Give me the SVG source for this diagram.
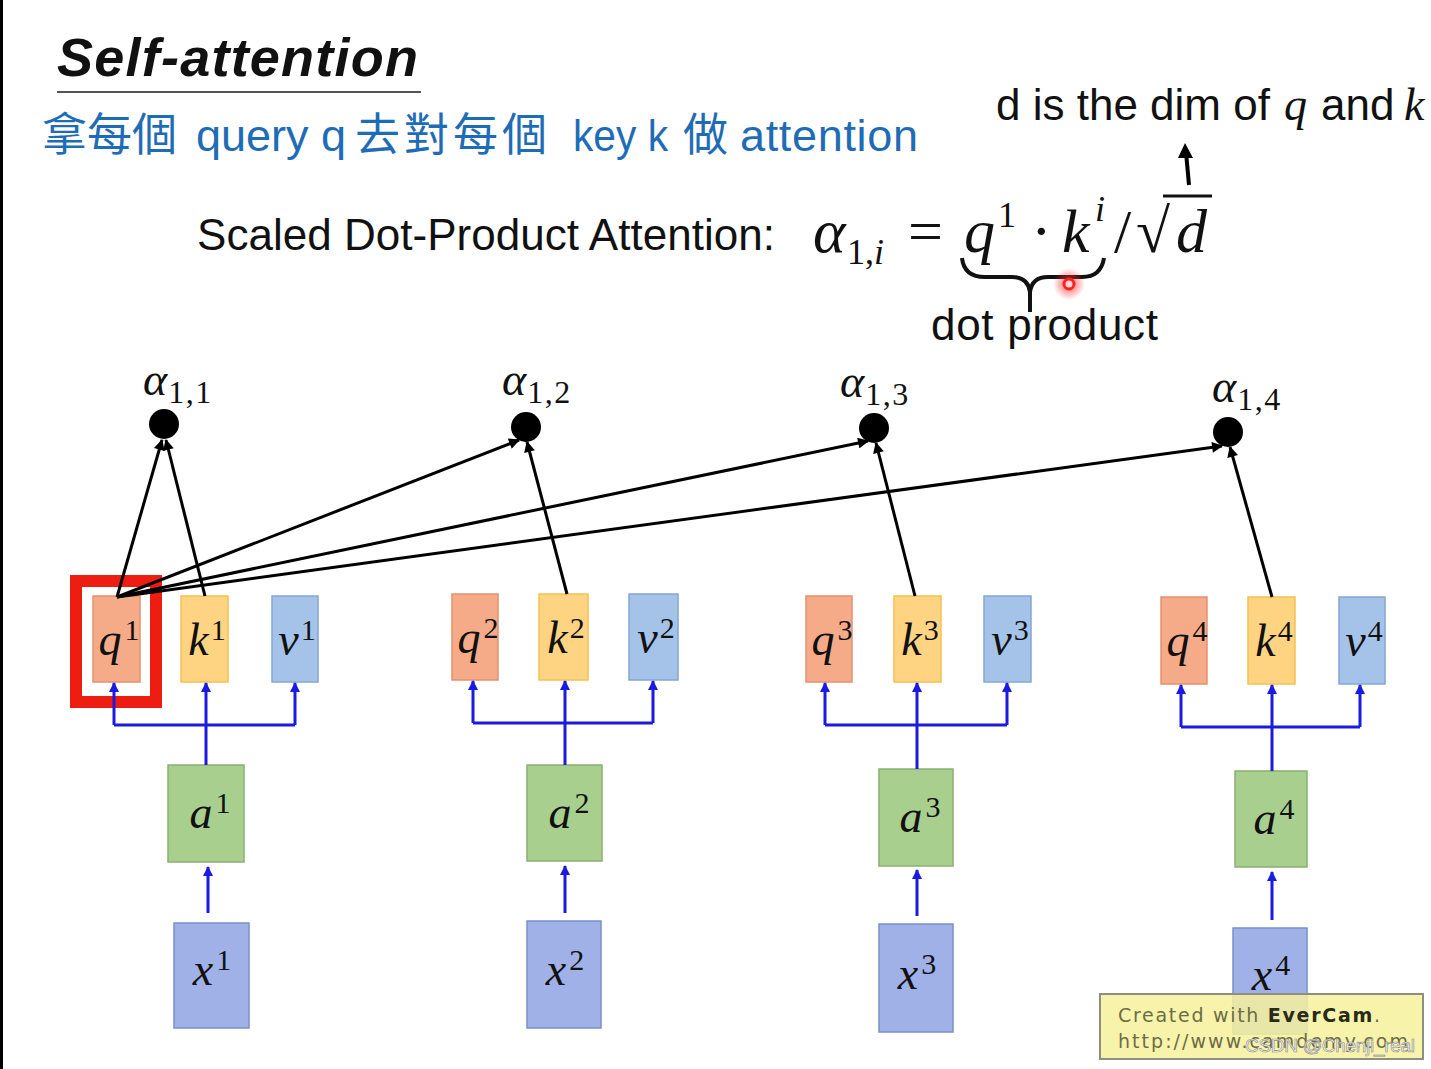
<svg xmlns="http://www.w3.org/2000/svg" width="1431" height="1069" viewBox="0 0 1431 1069">
<defs>
<style>
.sans{font-family:"Liberation Sans",Arial,sans-serif;fill:#111}
.mi{font-family:"Liberation Serif",serif;font-style:italic;font-size:46px;fill:#111}
.sup{font-style:normal;font-size:30px}
.sub{font-style:normal;font-size:32px;letter-spacing:1.5px}
.fm{font-family:"Liberation Serif",serif;fill:#111}
.big{font-size:62px}
.sm{font-size:36px}
.it{font-style:italic}
.cjk{font-family:"Noto Sans CJK TC","Noto Sans CJK SC",sans-serif;font-size:45px;fill:#1f6cb6}
.blu{font-family:"Liberation Sans",Arial,sans-serif;font-size:45px;fill:#1f6cb6}
.q{fill:#f5ab88;stroke:#e3916f;stroke-width:1.5}
.k{fill:#fed483;stroke:#f3c152;stroke-width:1.5}
.v{fill:#a5c3e8;stroke:#84a6d2;stroke-width:1.5}
.a{fill:#a9cf8f;stroke:#8bb072;stroke-width:1.5}
.x{fill:#9fb1e6;stroke:#7c8fc9;stroke-width:1.5}
.bl{stroke:#1a1ae0;stroke-width:3;fill:none}
.bla{stroke:#1a1ae0;stroke-width:3;fill:none;marker-end:url(#ab)}
.kl{stroke:#000;stroke-width:3;fill:none;marker-end:url(#ak)}
.wm{font-family:"DejaVu Sans",sans-serif;font-size:19px;fill:#6d6d45}
</style>
<marker id="ab" viewBox="0 0 10 10" refX="9" refY="5" markerWidth="10" markerHeight="11" markerUnits="userSpaceOnUse" orient="auto"><path d="M0,0 L10,5 L0,10 z" fill="#1a1ae0"/></marker>
<marker id="ak" viewBox="0 0 10 10" refX="9" refY="5" markerWidth="12" markerHeight="11" markerUnits="userSpaceOnUse" orient="auto"><path d="M0,0 L10,5 L0,10 z" fill="#000"/></marker>
<radialGradient id="glow"><stop offset="0" stop-color="#ff3030" stop-opacity="0.8"/><stop offset="1" stop-color="#ff3030" stop-opacity="0"/></radialGradient>
</defs>
<rect width="1431" height="1069" fill="#fff"/>
<rect x="0" y="0" width="3" height="1069" fill="#000"/>

<g id="title">
<text class="sans" x="57" y="76" style="font-size:54px" font-weight="bold" font-style="italic" textLength="361" lengthAdjust="spacing">Self-attention</text>
<line x1="57" y1="92" x2="421" y2="92" stroke="#555" stroke-width="2"/>
</g>
<g id="subtitle">
<text class="cjk" x="42" y="151">拿每個</text>
<text class="blu" x="196" y="151">query q</text>
<text class="cjk" x="355" y="151" textLength="192" lengthAdjust="spacing">去對每個</text>
<text class="blu" x="573" y="151" textLength="95" lengthAdjust="spacingAndGlyphs">key k</text>
<text class="cjk" x="683" y="151">做</text>
<text class="blu" x="740" y="151" textLength="178" lengthAdjust="spacing">attention</text>
</g>
<g id="formula">
<text class="sans" x="197" y="250" style="font-size:44px" textLength="578" lengthAdjust="spacing">Scaled Dot-Product Attention:</text>
<text class="fm big it" x="813" y="252">α</text>
<text class="fm sm" x="847" y="264">1,<tspan class="it">i</tspan></text>
<text class="fm big" x="908" y="252">=</text>
<text class="fm big it" x="964" y="252">q</text>
<text class="fm sm" x="998" y="227">1</text>
<text class="fm big" x="1031" y="252">·</text>
<text class="fm big it" x="1062" y="252">k</text>
<text class="fm sm it" x="1095" y="221">i</text>
<text class="fm big" x="1114" y="252">/</text>
<text class="fm big" x="1136" y="252">√</text>
<line x1="1163" y1="196" x2="1212" y2="196" stroke="#111" stroke-width="3"/>
<text class="fm big it" x="1176" y="252">d</text>
<path d="M962,258 Q964,277 985,277 L1012,277 Q1028,277 1030,292 L1030,312 M1030,292 Q1032,277 1048,277 L1082,277 Q1101,277 1104,258" fill="none" stroke="#111" stroke-width="4"/>
<text class="sans" x="931" y="340" style="font-size:44px" textLength="227" lengthAdjust="spacing">dot product</text>
<circle cx="1069" cy="284" r="16" fill="url(#glow)"/>
<circle cx="1069" cy="284" r="5" fill="#ffd6d6" stroke="#ff2020" stroke-width="3"/>
</g>
<g id="note">
<text class="sans" x="996" y="120" style="font-size:44px">d is the dim of</text>
<text class="mi" x="1284" y="120">q</text>
<text class="sans" x="1321" y="120" style="font-size:44px">and</text>
<text class="mi" x="1404" y="120">k</text>
<line x1="1189" y1="185" x2="1186" y2="152" stroke="#000" stroke-width="4"/>
<path d="M1185,143 L1193,158 L1178,158 z" fill="#000"/>
</g>

<g id="col1">
<g id="q1"><rect class="q" x="93" y="596" width="47" height="86"/><text class="mi" x="119" y="655" text-anchor="middle">q<tspan class="sup" dx="3" dy="-15">1</tspan></text></g>
<g id="k1"><rect class="k" x="181" y="596" width="47" height="86"/><text class="mi" x="207" y="655" text-anchor="middle">k<tspan class="sup" dx="2" dy="-15">1</tspan></text></g>
<g id="v1"><rect class="v" x="272" y="596" width="46" height="86"/><text class="mi" x="297" y="655" text-anchor="middle">v<tspan class="sup" dx="2" dy="-15">1</tspan></text></g>
<g id="a1"><rect class="a" x="168" y="765" width="76" height="97"/><text class="mi" x="210" y="828" text-anchor="middle">a<tspan class="sup" dx="3" dy="-15">1</tspan></text></g>
<g id="x1"><rect class="x" x="174" y="923" width="75" height="105"/><text class="mi" x="212" y="985" text-anchor="middle">x<tspan class="sup" dx="3" dy="-15">1</tspan></text></g>
<rect id="highlight" x="76" y="581" width="80" height="121" fill="none" stroke="#ee1d12" stroke-width="12"/>
</g>
<g id="col2">
<g id="q2"><rect class="q" x="452" y="594" width="46" height="86"/><text class="mi" x="478" y="653" text-anchor="middle">q<tspan class="sup" dx="3" dy="-15">2</tspan></text></g>
<g id="k2"><rect class="k" x="539" y="594" width="49" height="86"/><text class="mi" x="566" y="653" text-anchor="middle">k<tspan class="sup" dx="2" dy="-15">2</tspan></text></g>
<g id="v2"><rect class="v" x="629" y="594" width="49" height="86"/><text class="mi" x="656" y="653" text-anchor="middle">v<tspan class="sup" dx="2" dy="-15">2</tspan></text></g>
<g id="a2"><rect class="a" x="527" y="765" width="75" height="96"/><text class="mi" x="569" y="828" text-anchor="middle">a<tspan class="sup" dx="3" dy="-15">2</tspan></text></g>
<g id="x2"><rect class="x" x="527" y="921" width="74" height="107"/><text class="mi" x="565" y="985" text-anchor="middle">x<tspan class="sup" dx="3" dy="-15">2</tspan></text></g>
</g>
<g id="col3">
<g id="q3"><rect class="q" x="806" y="596" width="46" height="86"/><text class="mi" x="832" y="655" text-anchor="middle">q<tspan class="sup" dx="3" dy="-15">3</tspan></text></g>
<g id="k3"><rect class="k" x="894" y="596" width="47" height="86"/><text class="mi" x="920" y="655" text-anchor="middle">k<tspan class="sup" dx="2" dy="-15">3</tspan></text></g>
<g id="v3"><rect class="v" x="984" y="596" width="47" height="86"/><text class="mi" x="1010" y="655" text-anchor="middle">v<tspan class="sup" dx="2" dy="-15">3</tspan></text></g>
<g id="a3"><rect class="a" x="879" y="769" width="74" height="97"/><text class="mi" x="920" y="832" text-anchor="middle">a<tspan class="sup" dx="3" dy="-15">3</tspan></text></g>
<g id="x3"><rect class="x" x="879" y="924" width="74" height="108"/><text class="mi" x="917" y="989" text-anchor="middle">x<tspan class="sup" dx="3" dy="-15">3</tspan></text></g>
</g>
<g id="col4">
<g id="q4"><rect class="q" x="1161" y="597" width="46" height="87"/><text class="mi" x="1187" y="656" text-anchor="middle">q<tspan class="sup" dx="3" dy="-15">4</tspan></text></g>
<g id="k4"><rect class="k" x="1248" y="597" width="47" height="87"/><text class="mi" x="1274" y="656" text-anchor="middle">k<tspan class="sup" dx="2" dy="-15">4</tspan></text></g>
<g id="v4"><rect class="v" x="1339" y="597" width="46" height="87"/><text class="mi" x="1364" y="656" text-anchor="middle">v<tspan class="sup" dx="2" dy="-15">4</tspan></text></g>
<g id="a4"><rect class="a" x="1235" y="771" width="72" height="96"/><text class="mi" x="1274" y="834" text-anchor="middle">a<tspan class="sup" dx="3" dy="-15">4</tspan></text></g>
<g id="x4"><rect class="x" x="1233" y="928" width="74" height="106"/><text class="mi" x="1271" y="990" text-anchor="middle">x<tspan class="sup" dx="3" dy="-15">4</tspan></text></g>
</g>

<g id="connectors">
<path class="bl" d="M206,765 V725 M114,725 H295"/>
<path class="bla" d="M114,725 V683"/><path class="bla" d="M206,725 V683"/><path class="bla" d="M295,725 V683"/>
<path class="bla" d="M208,913 V867"/>
<path class="bl" d="M565,765 V723 M473,723 H653"/>
<path class="bla" d="M473,723 V681"/><path class="bla" d="M565,723 V681"/><path class="bla" d="M653,723 V681"/>
<path class="bla" d="M565,913 V866"/>
<path class="bl" d="M917,769 V725 M825,725 H1007"/>
<path class="bla" d="M825,725 V683"/><path class="bla" d="M917,725 V683"/><path class="bla" d="M1007,725 V683"/>
<path class="bla" d="M917,916 V870"/>
<path class="bl" d="M1272,771 V727 M1181,727 H1360"/>
<path class="bla" d="M1181,727 V685"/><path class="bla" d="M1272,727 V685"/><path class="bla" d="M1360,727 V685"/>
<path class="bla" d="M1272,920 V872"/>
<line class="kl" x1="117" y1="597" x2="162" y2="440"/>
<line class="kl" x1="205" y1="596" x2="166" y2="440"/>
<line class="kl" x1="117" y1="597" x2="519" y2="440"/>
<line class="kl" x1="117" y1="597" x2="868" y2="441"/>
<line class="kl" x1="117" y1="597" x2="1222" y2="446"/>
<line class="kl" x1="567" y1="594" x2="527" y2="442"/>
<line class="kl" x1="915" y1="596" x2="876" y2="443"/>
<line class="kl" x1="1272" y1="597" x2="1230" y2="447"/>
</g>

<g id="alpha11"><circle cx="164" cy="424" r="15"/><text class="mi" x="143" y="395">α<tspan class="sub" dx="1" dy="8">1,1</tspan></text></g>
<g id="alpha12"><circle cx="526" cy="427" r="15"/><text class="mi" x="502" y="395">α<tspan class="sub" dx="1" dy="8">1,2</tspan></text></g>
<g id="alpha13"><circle cx="874" cy="428" r="15"/><text class="mi" x="840" y="397">α<tspan class="sub" dx="1" dy="8">1,3</tspan></text></g>
<g id="alpha14"><circle cx="1228" cy="432" r="15"/><text class="mi" x="1212" y="402">α<tspan class="sub" dx="1" dy="8">1,4</tspan></text></g>

<g id="watermark">
<rect x="1100" y="994" width="323" height="65" fill="#f6f19c" fill-opacity="0.85" stroke="#8f8f80" stroke-width="2"/>
<text class="wm" x="1118" y="1022" textLength="262" lengthAdjust="spacing">Created with <tspan font-weight="bold" fill="#2a2a18">EverCam</tspan>.</text>
<text class="wm" x="1118" y="1048" textLength="290" lengthAdjust="spacing">http://www.camdemy.com</text>
<text x="1245" y="1052" font-family="Liberation Sans,Arial,sans-serif" font-size="19" fill="#f4f4f4" stroke="#8a8a8a" stroke-width="0.6" textLength="170" lengthAdjust="spacing">CSDN @Chenji_real</text>
</g>
</svg>
